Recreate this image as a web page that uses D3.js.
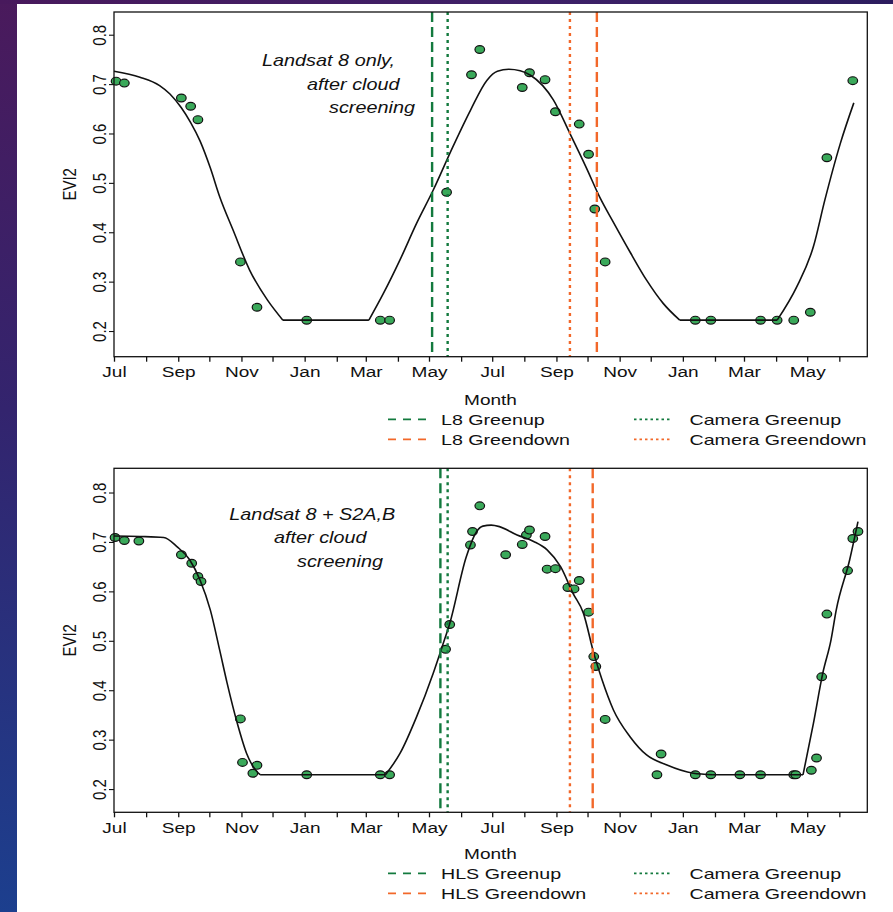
<!DOCTYPE html>
<html><head><meta charset="utf-8">
<script src="https://cdn.jsdelivr.net/npm/d3@7"></script>
<style>body{margin:0;background:#fff}svg{display:block}</style>
</head><body>
<svg id="chart" width="893" height="912"></svg>
<script>
// ---------------- DATA ----------------
const xStart = "2016-07-01", xEnd = "2018-06-28";
const yTicks = [0.2, 0.3, 0.4, 0.5, 0.6, 0.7, 0.8];
const labelMonths = ["Jul", "Sep", "Nov", "Jan", "Mar", "May"];

// Panel 1: Landsat 8 only
const topPointDates = ["2016-07-03","2016-07-11","2016-09-04","2016-09-13","2016-09-20","2016-10-31","2016-11-16","2017-01-03","2017-03-15","2017-03-24","2017-05-18","2017-06-11","2017-06-19","2017-07-30","2017-08-06","2017-08-21","2017-08-31","2017-09-23","2017-10-02","2017-10-08","2017-10-18","2018-01-13","2018-01-28","2018-03-17","2018-04-02","2018-04-18","2018-05-04","2018-05-20","2018-06-14"];
const topPointValues = [0.706,0.702,0.672,0.655,0.628,0.340,0.248,0.222,0.222,0.222,0.481,0.719,0.770,0.693,0.723,0.709,0.644,0.619,0.558,0.447,0.340,0.222,0.222,0.222,0.222,0.222,0.238,0.551,0.707];
const topCurveDates = ["2016-07-01","2016-07-26","2016-08-14","2016-08-24","2016-09-04","2016-09-13","2016-09-22","2016-10-02","2016-10-11","2016-10-24","2016-11-09","2016-11-26","2016-12-11","2017-03-04","2017-03-18","2017-04-03","2017-04-19","2017-05-05","2017-05-24","2017-06-10","2017-06-26","2017-07-06","2017-07-17","2017-07-28","2017-08-07","2017-08-29","2017-09-14","2017-09-30","2017-10-13","2017-10-26","2017-11-11","2017-11-27","2017-12-13","2017-12-29","2018-04-02","2018-04-21","2018-05-07","2018-05-18","2018-06-02","2018-06-15"];
const topCurveValues = [0.726,0.714,0.697,0.680,0.652,0.622,0.585,0.530,0.472,0.404,0.323,0.263,0.222,0.222,0.276,0.344,0.418,0.485,0.573,0.647,0.708,0.726,0.730,0.727,0.718,0.668,0.600,0.530,0.470,0.420,0.360,0.303,0.256,0.222,0.222,0.290,0.371,0.465,0.580,0.662];
const topEventNames = ["L8 Greenup", "L8 Greendown", "Camera Greenup", "Camera Greendown"];
const topEventDates = ["2017-05-04", "2017-10-10", "2017-05-19", "2017-09-14"];
const topNote = ["Landsat 8 only,", "after cloud", "screening"];

// Panel 2: Landsat 8 + S2A,B (HLS)
const bottomPointDates = ["2016-07-02","2016-07-11","2016-07-25","2016-09-04","2016-09-14","2016-09-20","2016-09-23","2016-10-31","2016-11-02","2016-11-12","2016-11-16","2017-01-03","2017-03-15","2017-03-24","2017-05-17","2017-05-21","2017-06-10","2017-06-12","2017-06-19","2017-07-14","2017-07-30","2017-08-03","2017-08-06","2017-08-21","2017-08-23","2017-08-31","2017-09-12","2017-09-18","2017-09-23","2017-10-02","2017-10-07","2017-10-09","2017-10-18","2017-12-07","2017-12-11","2018-01-13","2018-01-28","2018-02-25","2018-03-17","2018-04-18","2018-04-20","2018-05-05","2018-05-10","2018-05-15","2018-05-20","2018-06-09","2018-06-14","2018-06-19"];
const bottomPointValues = [0.709,0.703,0.702,0.674,0.657,0.630,0.620,0.342,0.254,0.232,0.248,0.229,0.229,0.229,0.483,0.533,0.694,0.721,0.773,0.674,0.695,0.714,0.724,0.711,0.645,0.646,0.608,0.605,0.622,0.558,0.468,0.448,0.341,0.229,0.271,0.229,0.229,0.229,0.229,0.229,0.229,0.238,0.263,0.427,0.554,0.642,0.707,0.721];
const bottomCurveDates = ["2016-07-01","2016-07-26","2016-08-18","2016-08-31","2016-09-12","2016-09-22","2016-10-02","2016-10-11","2016-10-18","2016-10-28","2016-11-06","2016-11-16","2016-11-19","2017-03-20","2017-04-03","2017-04-19","2017-05-05","2017-05-14","2017-05-21","2017-06-06","2017-06-16","2017-06-22","2017-06-30","2017-07-08","2017-07-25","2017-08-10","2017-08-23","2017-09-05","2017-09-17","2017-09-27","2017-10-07","2017-10-15","2017-10-26","2017-11-11","2017-11-27","2017-12-16","2018-01-11","2018-01-30","2018-04-27","2018-05-07","2018-05-16","2018-05-24","2018-05-29","2018-06-11","2018-06-19"];
const bottomCurveValues = [0.712,0.711,0.709,0.690,0.664,0.623,0.562,0.481,0.416,0.333,0.272,0.235,0.229,0.229,0.272,0.346,0.434,0.490,0.535,0.670,0.721,0.732,0.734,0.731,0.714,0.701,0.684,0.650,0.596,0.556,0.475,0.421,0.360,0.306,0.269,0.249,0.232,0.229,0.229,0.333,0.434,0.502,0.562,0.664,0.741];
const bottomEventNames = ["HLS Greenup", "HLS Greendown", "Camera Greenup", "Camera Greendown"];
const bottomEventDates = ["2017-05-12", "2017-10-06", "2017-05-19", "2017-09-14"];
const bottomNote = ["Landsat 8 + S2A,B", "after cloud", "screening"];

// ---------------- DRAWING ----------------
const W = 893, H = 912;
const FONT = "'Liberation Sans', Arial, Helvetica, sans-serif";
const SX = 1.27; // horizontal stretch of the original figure
const parse = d3.timeParse("%Y-%m-%d");
const svg = d3.select("#chart");
const defs = svg.append("defs");

const gl = defs.append("linearGradient").attr("id", "bgL").attr("x1", 0).attr("y1", 0).attr("x2", 0).attr("y2", 1);
gl.append("stop").attr("offset", 0).attr("stop-color", "#4a1a5c");
gl.append("stop").attr("offset", 0.45).attr("stop-color", "#33246e");
gl.append("stop").attr("offset", 1).attr("stop-color", "#1c3f8e");
const gt = defs.append("linearGradient").attr("id", "bgT").attr("x1", 0).attr("y1", 0).attr("x2", 1).attr("y2", 0);
gt.append("stop").attr("offset", 0).attr("stop-color", "#48195c");
gt.append("stop").attr("offset", 0.6).attr("stop-color", "#3e2068");
gt.append("stop").attr("offset", 1).attr("stop-color", "#2c1c5e");
svg.append("rect").attr("width", W).attr("height", H).attr("fill", "url(#bgL)");
svg.append("rect").attr("width", W).attr("height", 4).attr("fill", "url(#bgT)");
svg.append("rect").attr("x", 17).attr("y", 4).attr("width", W - 17).attr("height", H - 4).attr("fill", "#ffffff");

const GREEN = "#137a3e", ORANGE = "#f2682a";
const eventColor = [GREEN, ORANGE, GREEN, ORANGE];
const eventDash = ["10,5", "10,5", "3,4", "3,4"];
const legendDash = ["8,7", "8,7", "2.5,3", "2.5,3"];

const x = d3.scaleTime().domain([parse(xStart), parse(xEnd)]).range([114, 867.3]);

function stretchedText(g, str, px, py, opts) {
  const t = g.append("g").attr("transform", `translate(${px},${py}) scale(${opts.sx || SX},1)` + (opts.rotate ? ` rotate(${opts.rotate})` : ""))
    .append("text").attr("x", 0).attr("y", 0)
    .attr("font-family", FONT).attr("font-size", opts.size || 15)
    .attr("text-anchor", opts.anchor || "start").attr("fill", "#111")
    .text(str);
  if (opts.italic) t.attr("font-style", "italic");
  return t;
}

function drawPanel(cfg) {
  const y = d3.scaleLinear().domain(cfg.yDomain).range([cfg.bottom, cfg.top]);
  const g = svg.append("g");

  // x axis
  const xa = g.append("g").attr("transform", `translate(0,${cfg.bottom})`)
    .call(d3.axisBottom(x).ticks(d3.timeMonth.every(1)).tickSize(5).tickPadding(5)
      .tickFormat(d => { const m = d3.timeFormat("%b")(d); return labelMonths.includes(m) ? m : ""; }));
  xa.select(".domain").remove();
  xa.selectAll(".tick line").attr("stroke", "#111").attr("stroke-width", 1.3);
  xa.selectAll(".tick text").attr("font-family", FONT).attr("font-size", 15).attr("fill", "#111")
    .attr("transform", `scale(${SX},1)`);

  // y axis
  const ya = g.append("g").attr("transform", `translate(114,0)`)
    .call(d3.axisLeft(y).tickValues(yTicks).tickSize(5).tickFormat(d3.format(".1f")));
  ya.select(".domain").remove();
  ya.selectAll(".tick line").attr("stroke", "#111").attr("stroke-width", 1.1);
  ya.selectAll(".tick text").attr("font-family", FONT).attr("font-size", 15).attr("fill", "#111")
    .attr("x", null).attr("dy", null).attr("y", 0).attr("text-anchor", "middle")
    .attr("transform", `translate(-8.5,0) scale(${SX},1) rotate(-90)`);

  // axis titles
  stretchedText(g, "EVI2", 75.5, (cfg.top + cfg.bottom) / 2, { rotate: -90, anchor: "middle" });
  stretchedText(g, "Month", 490.5, cfg.monthY, { anchor: "middle" });

  // points
  g.append("g").selectAll("ellipse").data(cfg.pDates.map((d, i) => [parse(d), cfg.pValues[i]]))
    .join("ellipse")
    .attr("cx", d => x(d[0])).attr("cy", d => y(d[1]))
    .attr("rx", 4.8).attr("ry", 3.9)
    .attr("fill", "#3aa95a").attr("stroke", "#111").attr("stroke-width", 1.2);

  // fitted curve (split at floor points to keep corners)
  const cpts = cfg.cDates.map((d, i) => [x(parse(d)), y(cfg.cValues[i]), cfg.cValues[i]]);
  const floor = d3.min(cfg.cValues);
  const pieces = []; let cur = [cpts[0]];
  for (let i = 1; i < cpts.length; i++) {
    cur.push(cpts[i]);
    if (cpts[i][2] === floor) { pieces.push(cur); cur = [cpts[i]]; }
  }
  if (cur.length > 1) pieces.push(cur);
  const line = d3.line().x(d => d[0]).y(d => d[1]).curve(d3.curveMonotoneX);
  g.append("g").selectAll("path").data(pieces).join("path")
    .attr("d", line).attr("fill", "none").attr("stroke", "#111").attr("stroke-width", 1.6)
    .attr("stroke-linejoin", "round");

  // event lines
  g.append("g").selectAll("line").data(cfg.eDates).join("line")
    .attr("x1", d => x(parse(d))).attr("x2", d => x(parse(d)))
    .attr("y1", cfg.top).attr("y2", cfg.bottom)
    .attr("stroke", (d, i) => eventColor[i]).attr("stroke-width", 2.4)
    .attr("stroke-dasharray", (d, i) => eventDash[i]);

  // frame
  g.append("rect").attr("x", 114).attr("y", cfg.top).attr("width", 867.3 - 114).attr("height", cfg.bottom - cfg.top)
    .attr("fill", "none").attr("stroke", "#111").attr("stroke-width", 1.3);

  // annotation
  cfg.note.forEach((s, i) => stretchedText(g, s, cfg.noteX[i], cfg.noteY[i], { italic: true, size: 16, sx: 1.24 }));

  // legend
  const legX = [[388, 426, 441], [388, 426, 441], [634, 670, 689.5], [634, 670, 689.5]];
  const legRow = [0, 1, 0, 1];
  cfg.eNames.forEach((name, i) => {
    const ry = cfg.legendY[legRow[i]];
    g.append("line").attr("x1", legX[i][0]).attr("x2", legX[i][1]).attr("y1", ry).attr("y2", ry)
      .attr("stroke", eventColor[i]).attr("stroke-width", 1.8).attr("stroke-dasharray", legendDash[i]);
    stretchedText(g, name, legX[i][2], ry + 5.4, { sx: 1.31 });
  });
}

drawPanel({
  top: 12, bottom: 356.7, yDomain: [0.148, 0.846], monthY: 404.8, legendY: [419.3, 439.3],
  pDates: topPointDates, pValues: topPointValues, cDates: topCurveDates, cValues: topCurveValues,
  eDates: topEventDates, eNames: topEventNames,
  note: topNote, noteX: [262, 307, 329], noteY: [66, 90, 113]
});
drawPanel({
  top: 468.3, bottom: 812.3, yDomain: [0.153, 0.849], monthY: 858.6, legendY: [873.3, 893.3],
  pDates: bottomPointDates, pValues: bottomPointValues, cDates: bottomCurveDates, cValues: bottomCurveValues,
  eDates: bottomEventDates, eNames: bottomEventNames,
  note: bottomNote, noteX: [229.3, 274, 297], noteY: [520, 543.3, 566.7]
});
</script>
</body></html>
